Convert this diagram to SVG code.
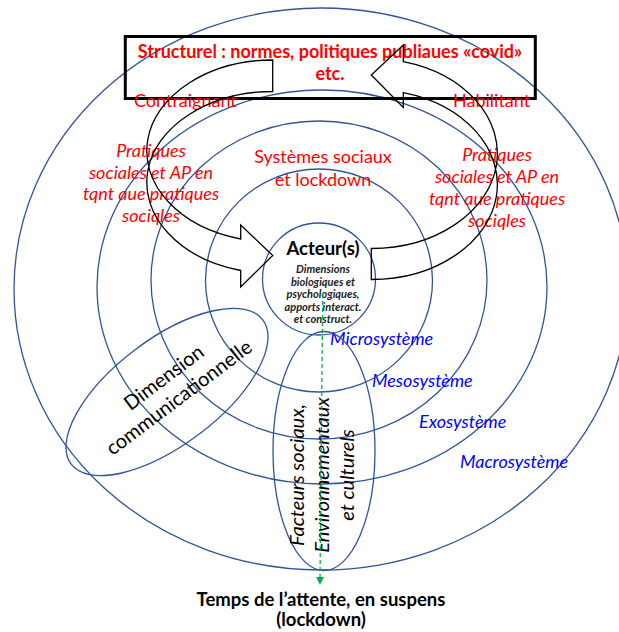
<svg xmlns="http://www.w3.org/2000/svg" width="619" height="632" viewBox="0 0 619 632">
<style>
.ring{fill:none;stroke:#2f5597;stroke-width:1.3}
.arr{fill:none;stroke:#000;stroke-width:1.3;stroke-linejoin:miter}
text{font-family:Lato,"Liberation Sans",sans-serif}
.red{fill:#ff0000;font-size:18px}
.redi{fill:#ff0000;font-size:18px;font-style:italic}
.blue{fill:#0000ff;font-size:18px;font-style:italic}
.blk{fill:#000;font-size:20px}
</style>
<defs>
<marker id="gh" markerWidth="8" markerHeight="8" refX="4" refY="4" orient="auto" markerUnits="userSpaceOnUse">
<path d="M0,0 L8,4 L0,8 Z" fill="#00b050"/>
</marker>
</defs>
<rect width="619" height="632" fill="#fff"/>
<g id="macrosysteme"><ellipse class="ring" cx="321" cy="289" rx="307" ry="281"/><text class="blue" x="460" y="468">Macrosystème</text></g>
<g id="exosysteme"><ellipse class="ring" cx="322" cy="287" rx="225" ry="197"/><text class="blue" x="419" y="428">Exosystème</text></g>
<g id="mesosysteme"><ellipse class="ring" cx="319" cy="280" rx="168" ry="159"/><text class="blue" x="372" y="387">Mesosystème</text></g>
<g id="microsysteme"><ellipse class="ring" cx="319" cy="280.5" rx="113.5" ry="111.5"/><text class="blue" x="330" y="345">Microsystème</text></g>
<g id="acteur">
<ellipse class="ring" cx="319" cy="279" rx="56.5" ry="56"/>
<text x="323" y="255" text-anchor="middle" font-size="18.5" font-weight="bold" fill="#000">Acteur(s)</text>
<g font-size="11" font-weight="bold" font-style="italic" fill="#222" text-anchor="middle">
<text x="323" y="273">Dimensions</text>
<text x="323" y="285.5">biologiques et</text>
<text x="323" y="298">psychologiques,</text>
<text x="323" y="310.5">apports interact.</text>
<text x="323" y="323">et construct.</text>
</g>
</g>
<g id="facteurs">
<ellipse class="ring" cx="324" cy="451" rx="51" ry="119.5"/>
<g transform="translate(323,475) rotate(-90)" class="blk" font-style="italic" text-anchor="middle">
<text x="0" y="-19">Facteurs sociaux,</text>
<text x="0" y="6">Environnementaux</text>
<text x="0" y="31">et culturels</text>
</g>
</g>
<g id="dimension">
<ellipse class="ring" cx="167" cy="392" rx="120" ry="53" transform="rotate(-37 167 392)"/>
<g transform="translate(171,387) rotate(-37)" class="blk" text-anchor="middle">
<text x="0" y="-5">Dimension</text>
<text x="0" y="20">communicationnelle</text>
</g>
</g>
<g id="structurel">
<rect x="125.3" y="36.5" width="410" height="62" fill="none" stroke="#000" stroke-width="3"/>
<text x="330" y="58" text-anchor="middle" fill="#ff0000" font-size="18" font-weight="bold">Structurel : normes, politiques publiaues «covid»</text>
<text x="330" y="80" text-anchor="middle" fill="#ff0000" font-size="18" font-weight="bold">etc.</text>
</g>
<g id="contraignant"><text class="red" x="134" y="107">Contraignant</text></g>
<g id="habilitant"><text class="red" x="453" y="107">Habilitant</text></g>
<g id="pratiques-gauche" class="redi" text-anchor="middle">
<text x="151" y="157">Pratiques</text>
<text x="151" y="178.5">sociales et AP en</text>
<text x="151" y="200">tqnt aue pratiques</text>
<text x="151" y="221.5">sociqles</text>
</g>
<g id="pratiques-droite" class="redi" text-anchor="middle">
<text x="497" y="160.5">Pratiques</text>
<text x="497" y="182.5">sociales et AP en</text>
<text x="497" y="204.5">tqnt aue pratiques</text>
<text x="497" y="226.5">sociqles</text>
</g>
<g id="systemes" class="red" text-anchor="middle">
<text x="323" y="163">Systèmes sociaux</text>
<text x="323" y="186">et lockdown</text>
</g>
<g id="temps" text-anchor="middle" font-weight="bold" fill="#000" font-size="18.5">
<text x="321" y="606">Temps de l’attente, en suspens</text>
<text x="321" y="626">(lockdown)</text>
</g>
<g id="connectors">
<path class="arr" d="M272.7,60 A126,91 0 0 0 240.7,239 L240.7,225 L272.7,255.5 L240.7,287 L240.7,270.5 A126,91 0 0 1 272.7,91.5 Z"/>
<path class="arr" d="M371.3,248.5 A126,95 0 0 0 403.3,61.6 L403.3,45 L371.3,75 L403.3,107.5 L403.3,92.6 A126,95 0 0 1 371.3,279.5 Z"/>
<line x1="322.7" y1="294" x2="320" y2="581" stroke="#00b050" stroke-width="1.3" stroke-dasharray="4,3" marker-end="url(#gh)"/>
</g>
</svg>
